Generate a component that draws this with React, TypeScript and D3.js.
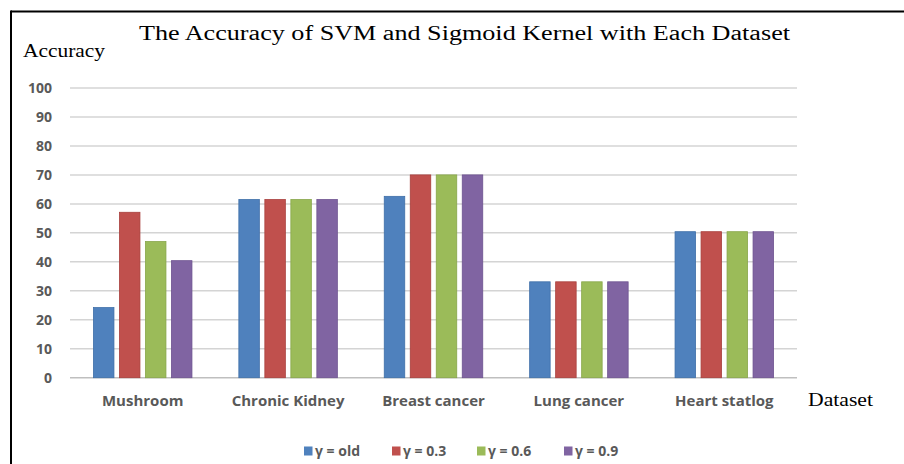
import React from "react";
import * as d3 from "d3";

const categories = ["Mushroom", "Chronic Kidney", "Breast cancer", "Lung cancer", "Heart statlog"];
const seriesNames = ["γ = old", "γ = 0.3", "γ = 0.6", "γ = 0.9"];
const gammaOld = [24.2, 61.5, 62.6, 33.1, 50.4];
const gamma03 = [57.1, 61.5, 70, 33.1, 50.4];
const gamma06 = [47.0, 61.5, 70, 33.1, 50.4];
const gamma09 = [40.4, 61.5, 70, 33.1, 50.4];
const seriesValues = [gammaOld, gamma03, gamma06, gamma09];
const colors = ["#4F81BD", "#C0504D", "#9BBB59", "#8064A2"];
const strokes = ["#3F6FA8", "#A8403D", "#88A64A", "#6E5390"];
const yTicks = [0, 10, 20, 30, 40, 50, 60, 70, 80, 90, 100];

export default function App() {
  const W = 904, H = 464;
  const left = 70, right = 797, top = 88, bottom = 377.7;
  const x = d3.scaleBand<string>().domain(categories).range([left, right]).paddingInner(0).paddingOuter(0);
  const y = d3.scaleLinear().domain([0, 100]).range([bottom, top]);
  const barW = 20.5;
  const step = 26;
  const groupW = step * 3 + barW;
  const sans = "'Open Sans', 'Liberation Sans', sans-serif";
  const serif = "'Liberation Serif', 'DejaVu Serif', serif";
  const legendX = [304, 392, 477, 564];

  return (
    <svg width={W} height={H} style={{ position: "absolute", left: 0, top: 0, background: "#fff" }}>
      <rect x={0} y={0} width={W} height={H} fill="#fff" />
      {/* frame */}
      <line x1={11} y1={11.5} x2={W} y2={11.5} stroke="#000" strokeWidth={2} />
      <line x1={11} y1={10.5} x2={11} y2={H} stroke="#000" strokeWidth={2} />

      {/* title */}
      <text x={139} y={40} fontFamily={serif} fontSize={20} fill="#000" textLength={651} lengthAdjust="spacingAndGlyphs">
        The Accuracy of SVM and Sigmoid Kernel with Each Dataset
      </text>
      <text x={23} y={57} fontFamily={serif} fontSize={18} fill="#000" textLength={82} lengthAdjust="spacingAndGlyphs">
        Accuracy
      </text>
      <text x={808} y={406} fontFamily={serif} fontSize={18} fill="#000" textLength={65} lengthAdjust="spacingAndGlyphs">
        Dataset
      </text>

      {/* grid */}
      {yTicks.map((t) => (
        <g key={t}>
          <line x1={left} x2={right} y1={y(t)} y2={y(t)} stroke={t === 0 ? "#BFBFBF" : "#D4D4D4"} strokeWidth={1.5} />
          <text x={52} y={y(t) + 5} textAnchor="end" fontFamily={sans} fontWeight={700} fontSize={14} fill="#595959">
            {t}
          </text>
        </g>
      ))}

      {/* bars */}
      {categories.map((c, ci) => {
        const cx = (x(c) as number) + x.bandwidth() / 2;
        const gx = cx - groupW / 2;
        return (
          <g key={c}>
            {seriesValues.map((vals, si) => (
              <rect
                key={si}
                x={gx + si * step}
                y={y(vals[ci])}
                width={barW}
                height={y(0) - y(vals[ci])}
                fill={colors[si]}
                stroke={strokes[si]}
                strokeWidth={0.8}
              />
            ))}
            <text x={cx} y={406} textAnchor="middle" fontFamily={sans} fontWeight={700} fontSize={15} fill="#595959">
              {c}
            </text>
          </g>
        );
      })}

      {/* legend */}
      {seriesNames.map((s, i) => (
        <g key={s}>
          <rect x={legendX[i]} y={446.5} width={8.5} height={9} fill={colors[i]} />
          <text x={legendX[i] + 11} y={456} fontFamily={sans} fontWeight={700} fontSize={14} fill="#595959">
            {s}
          </text>
        </g>
      ))}
    </svg>
  );
}
